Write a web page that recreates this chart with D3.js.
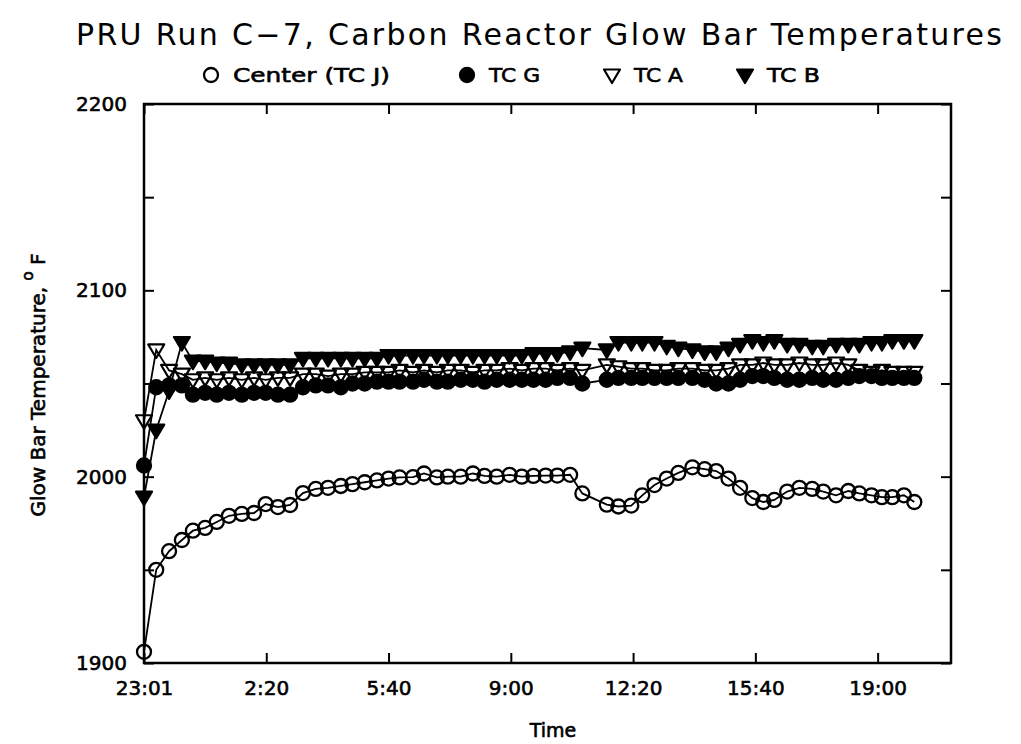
<!DOCTYPE html>
<html>
<head>
<meta charset="utf-8">
<script src="https://cdn.jsdelivr.net/npm/d3@7"></script>
<style>
  html, body { margin: 0; padding: 0; background: #fff; }
  svg { display: block; }
  text { font-family: "DejaVu Sans", sans-serif; fill: #000; }
  .heavy { stroke: #000; stroke-width: 0.6px; }
</style>
</head>
<body>
<svg id="chart" width="1021" height="744"></svg>
<script>
// ---- Data (minutes elapsed since 23:01) ----
const times = [0,20,41,62,80,100,119,139,160,180,199,219,239,260,281,301,322,341,361,381,
  400,418,440,458,479,497,518,538,557,577,598,618,637,657,676,697,717,757,776,797,
  815,835,855,874,897,917,936,956,975,995,1013,1031,1052,1072,1093,1111,1132,1152,1170,1190,
  1207,1224,1243,1260];

const centerTCJ = [1906,1950,1960,1966,1971,1972.5,1975.7,1979,1980,1980.5,1985.3,1983.7,1984.8,1991.2,1993.4,1994,1995,1996,1997,1998,
  1999,1999.6,1999.8,2001.7,1999.6,2000,2000,2001.7,2000.4,2000,2001,2000,2000.4,2000.6,2000.6,2001,1991,1985,1984,1984.5,
  1990,1995.5,1999,2002,2005,2004,2003,1999,1994,1988.5,1986.4,1987.5,1992,1994,1993.4,1992,1990,1992.3,1991,1990,
  1989,1989,1990,1986.4];

const tcG = [2006,2048,2049,2049,2044,2045,2044,2045,2044,2045,2045,2044,2044,2048,2049,2049,2048,2050,2050,2051,
  2051,2051,2051,2052,2051,2051,2052,2052,2051,2052,2052,2052,2052,2052,2053,2053,2050,2052,2053,2053,
  2053,2053,2053,2053,2053,2052,2050,2050,2052,2054,2054,2053,2052,2052,2053,2052,2052,2053,2054,2054,
  2053,2053,2053,2053];

const tcA = [2030,2068,2057,2055,2052,2053,2052,2053,2052,2053,2052,2053,2053,2055,2055,2054,2055,2055,2056,2056,
  2056,2057,2056,2057,2056,2057,2057,2056,2057,2057,2058,2057,2058,2058,2057,2058,2057,2060,2059,2058,
  2058,2057,2057,2058,2058,2057,2057,2058,2060,2060,2061,2060,2060,2061,2060,2060,2061,2060,2057,2056,
  2057,2056,2056,2056];

const tcB = [1989,2025,2046,2072,2062,2062,2061,2061,2060,2060,2060,2060,2060,2063.5,2063.5,2063.5,2063.5,2063.5,2063.5,2063.5,
  2065,2065,2065,2065,2065,2065,2065,2065,2065,2065,2065,2065,2066,2066,2066,2067,2069,2068,2072,2072,
  2072,2072,2070,2069,2068,2067,2067,2069,2071,2073,2072,2073,2071,2071,2070,2070,2071,2071,2071,2072,
  2072,2073,2073,2073];

const seriesNames = ["Center (TC J)", "TC G", "TC A", "TC B"];
const xTickValues = [0,200,400,600,800,1000,1200];
const xTickLabels = ["23:01","2:20","5:40","9:00","12:20","15:40","19:00"];
const yTickValues = [1900,1950,2000,2050,2100,2150,2200];
const yLabelValues = [1900,2000,2100,2200];

// ---- Layout ----
const svg = d3.select("#chart");
const L = 144, R = 951, T = 104, B = 663;
const x = d3.scaleLinear().domain([0,1320]).range([L,R]);
const y = d3.scaleLinear().domain([1900,2200]).range([B,T]);

// Title
svg.append("text").attr("x", 76).attr("y", 45)
  .attr("font-size", 30).attr("textLength", 926).attr("lengthAdjust", "spacing")
  .text("PRU Run C\u22127, Carbon Reactor Glow Bar Temperatures");

// Axes
const fmtX = d => xTickLabels[xTickValues.indexOf(d)];
const fmtY = d => yLabelValues.includes(d) ? String(d) : "";

const gB = svg.append("g").attr("transform", `translate(0,${B})`)
  .call(d3.axisBottom(x).tickValues(xTickValues).tickFormat(fmtX).tickSize(-10).tickPadding(18));
const gT = svg.append("g").attr("transform", `translate(0,${T})`)
  .call(d3.axisTop(x).tickValues(xTickValues).tickFormat("").tickSize(-10));
const gL = svg.append("g").attr("transform", `translate(${L},0)`)
  .call(d3.axisLeft(y).tickValues(yTickValues).tickFormat(fmtY).tickSize(-10).tickPadding(17));
const gR = svg.append("g").attr("transform", `translate(${R},0)`)
  .call(d3.axisRight(y).tickValues(yTickValues).tickFormat("").tickSize(-10));
[gB,gT,gL,gR].forEach(g => {
  g.select(".domain").remove();
  g.selectAll(".tick line").attr("stroke", "#000").attr("stroke-width", 2);
  g.selectAll(".tick text").attr("font-size", 20).attr("font-family", "DejaVu Sans")
    .attr("fill", "#000").attr("class", "heavy");
});
svg.append("rect").attr("x", L).attr("y", T).attr("width", R-L).attr("height", B-T)
  .attr("fill", "none").attr("stroke", "#000").attr("stroke-width", 2.5);

// Axis titles
svg.append("text").attr("x", 553).attr("y", 737).attr("text-anchor", "middle")
  .attr("font-size", 19).attr("class", "heavy").text("Time");
const yl = svg.append("text").attr("transform", "translate(45,385) rotate(-90)")
  .attr("text-anchor", "middle").attr("font-size", 20).attr("class", "heavy");
yl.append("tspan").text("Glow Bar Temperature,  ");
yl.append("tspan").attr("font-size", 15).attr("dy", -12).text("o");
yl.append("tspan").attr("dy", 12).text("  F");

// Markers
const sym = {
  circle: (g, fill) => g.append("circle").attr("r", 7).attr("fill", fill).attr("stroke", "#000").attr("stroke-width", 2.3),
  tri: (g, fill) => g.append("path").attr("d", "M-8,-5.5 L8,-5.5 L0,8 Z").attr("fill", fill).attr("stroke", "#000").attr("stroke-width", 2.2).attr("stroke-linejoin", "round")
};
const series = [
  {name: seriesNames[0], vals: centerTCJ, shape: "circle", fill: "none"},
  {name: seriesNames[1], vals: tcG, shape: "circle", fill: "#000"},
  {name: seriesNames[2], vals: tcA, shape: "tri", fill: "none"},
  {name: seriesNames[3], vals: tcB, shape: "tri", fill: "#000"}
];
const line = d3.line().x((d,i) => x(times[i])).y(d => y(d));
series.forEach(s => {
  svg.append("path").datum(s.vals).attr("d", line)
    .attr("fill", "none").attr("stroke", "#000").attr("stroke-width", 1.8);
  const g = svg.append("g");
  s.vals.forEach((v,i) => {
    const m = g.append("g").attr("transform", `translate(${x(times[i])},${y(v)})`);
    sym[s.shape](m, s.fill);
  });
});

// Legend
const legX = [211, 467, 612, 745];
const legW = [157, 51, 49, 53];
series.forEach((s,i) => {
  const m = svg.append("g").attr("transform", `translate(${legX[i]},75)`);
  sym[s.shape](m, s.fill);
  svg.append("text").attr("x", legX[i] + 22).attr("y", 82).attr("font-size", 20).attr("class", "heavy")
    .attr("textLength", legW[i]).attr("lengthAdjust", "spacingAndGlyphs").text(s.name);
});
</script>
</body>
</html>
